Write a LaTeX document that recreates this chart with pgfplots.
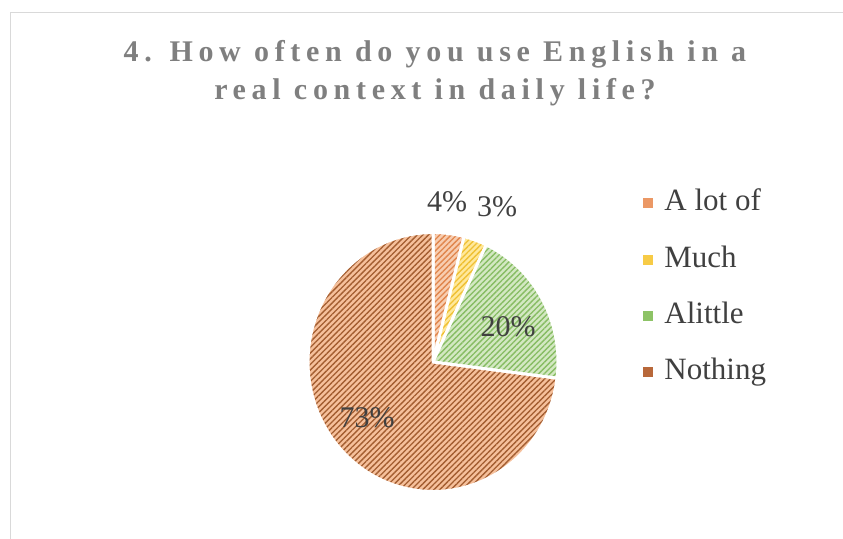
\documentclass[border=0pt]{standalone}
\usepackage{pgfplots}
\pgfplotsset{compat=1.18}
\usepackage{pgfplotstable}
\usepackage{fontspec}
\setmainfont{Liberation Serif}
\newfontfamily\titlefont[LetterSpace=19]{Liberation Serif}
\usetikzlibrary{patterns.meta}

\definecolor{bgA}{HTML}{F8CDB0}
\definecolor{fgA}{HTML}{E0854C}
\definecolor{bgB}{HTML}{FFE89A}
\definecolor{fgB}{HTML}{EFC033}
\definecolor{bgC}{HTML}{D3E8C2}
\definecolor{fgC}{HTML}{86BC62}
\definecolor{bgD}{HTML}{F6C09B}
\definecolor{fgD}{HTML}{A35D30}
\definecolor{mkA}{HTML}{EB9865}
\definecolor{mkB}{HTML}{F7CB46}
\definecolor{mkC}{HTML}{8DC366}
\definecolor{mkD}{HTML}{B8683A}
\definecolor{labelgray}{HTML}{404040}
\definecolor{titlegray}{HTML}{7F7F7F}
\definecolor{bordergray}{HTML}{D9D9D9}

\tikzset{
  slice/.style n args={2}{fill=#1,
    postaction={pattern={Lines[angle=45,distance=4bp,line width=1.35bp]}, pattern color=#2},
    postaction={draw=white, line width=3bp, line join=round}},
}

\pgfplotstableread{
label value
{A lot of} 4
Much 3
Alittle 20
Nothing 73
}\piedata
\pgfplotstablegetelem{0}{value}\of\piedata\edef\vA{\pgfplotsretval}%
\pgfplotstablegetelem{1}{value}\of\piedata\edef\vB{\pgfplotsretval}%
\pgfplotstablegetelem{2}{value}\of\piedata\edef\vC{\pgfplotsretval}%
\pgfplotstablegetelem{3}{value}\of\piedata\edef\vD{\pgfplotsretval}%
\pgfmathsetmacro\aA{90}%
\pgfmathsetmacro\aB{\aA-3.6*\vA}%
\pgfmathsetmacro\aC{\aB-3.6*\vB}%
\pgfmathsetmacro\aD{\aC-3.6*\vC}%
\pgfmathsetmacro\aE{\aD-3.6*\vD}%

\begin{document}%
\begin{tikzpicture}
\path[use as bounding box] (0,0) rectangle (843bp,539bp);
\begin{axis}[
  at={(0,0)}, anchor=south west,
  scale only axis, width=843bp, height=539bp,
  xmin=0, xmax=843, ymin=0, ymax=539,
  hide axis, clip=false,
  legend cell align=left,
  legend style={at={(0.76275,0.6531)}, anchor=north west,
    draw=none, fill=none, inner sep=0pt, outer sep=0pt,
    row sep=24.3bp,
    nodes={inner sep=0pt, text height=24bp, text depth=8bp,
      font=\fontsize{31bp}{31bp}\selectfont, text=labelgray},
    /tikz/every odd column/.append style={column sep=12bp}},
]
\draw[color=bordergray, line width=1.3bp] (axis cs:10.5,0) -- (axis cs:10.5,526.5) -- (axis cs:843,526.5);

% slices
\path[slice={bgA}{fgA}] (axis cs:433,177) -- ++(\aA:125bp and 129.5bp) arc[start angle=\aA, end angle=\aB, x radius=125bp, y radius=129.5bp] -- cycle;
\path[slice={bgB}{fgB}] (axis cs:433,177) -- ++(\aB:125bp and 129.5bp) arc[start angle=\aB, end angle=\aC, x radius=125bp, y radius=129.5bp] -- cycle;
\path[slice={bgC}{fgC}] (axis cs:433,177) -- ++(\aC:125bp and 129.5bp) arc[start angle=\aC, end angle=\aD, x radius=125bp, y radius=129.5bp] -- cycle;
\path[slice={bgD}{fgD}] (axis cs:433,177) -- ++(\aD:125bp and 129.5bp) arc[start angle=\aD, end angle=\aE, x radius=125bp, y radius=129.5bp] -- cycle;

% data labels
\begin{scope}[every node/.style={anchor=base, inner sep=0pt, text=labelgray, font=\fontsize{30bp}{30bp}\selectfont}]
\node at (axis cs:447,327) {\vA\%};
\node at (axis cs:497,322) {\vB\%};
\node at (axis cs:508,202) {\vC\%};
\node at (axis cs:367,111) {\vD\%};
\end{scope}

% title
\begin{scope}[every node/.style={anchor=base, inner sep=0pt, text=titlegray, font=\titlefont\bfseries\fontsize{30bp}{30bp}\selectfont}]
\node at (axis cs:435,477.3) {4. How often do you use English in a};
\node at (axis cs:435,439.7) {real context in daily life?};
\end{scope}

\addlegendimage{legend image code/.code={\fill[mkA] (0bp,-4.5bp) rectangle (9bp,4.5bp);}}
\addlegendentry{A lot of}
\addlegendimage{legend image code/.code={\fill[mkB] (0bp,-4.5bp) rectangle (9bp,4.5bp);}}
\addlegendentry{Much}
\addlegendimage{legend image code/.code={\fill[mkC] (0bp,-4.5bp) rectangle (9bp,4.5bp);}}
\addlegendentry{Alittle}
\addlegendimage{legend image code/.code={\fill[mkD] (0bp,-4.5bp) rectangle (9bp,4.5bp);}}
\addlegendentry{Nothing}
\end{axis}
\end{tikzpicture}%
\end{document}
